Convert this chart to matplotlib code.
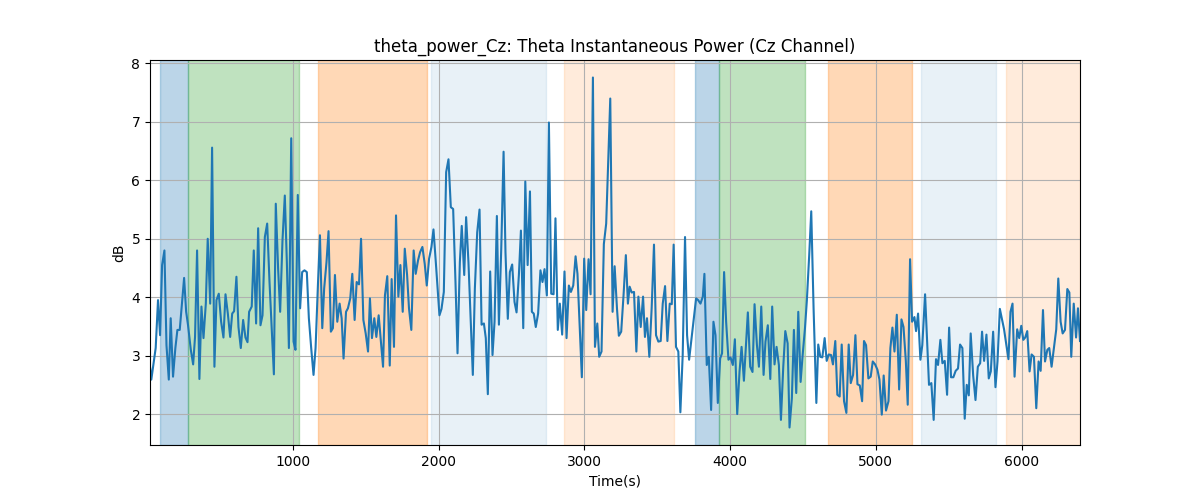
import numpy as np
import matplotlib
matplotlib.use("Agg")
import matplotlib.pyplot as plt

# time (s) and theta power (dB)
time_s = [
    20, 29, 59, 75, 89, 103, 119, 133, 149, 162, 178, 194, 208, 224, 240, 254, 268, 281,
    300, 316, 329, 343, 359, 373, 387, 403, 416, 433, 446, 462, 476, 492, 508, 524, 538,
    554, 570, 584, 597, 613, 627, 643, 659, 675, 689, 700, 718, 732, 748, 762, 778, 792,
    808, 824, 840, 856, 870, 883, 899, 913, 929, 945, 959, 973, 989, 1005, 1018, 1034,
    1050, 1064, 1080, 1096, 1110, 1126, 1142, 1156, 1172, 1186, 1202, 1215, 1231, 1245,
    1261, 1275, 1289, 1305, 1321, 1335, 1348, 1365, 1378, 1394, 1408, 1424, 1438, 1454,
    1468, 1484, 1500, 1516, 1529, 1543, 1559, 1573, 1589, 1603, 1619, 1632, 1648, 1665,
    1678, 1694, 1708, 1724, 1738, 1754, 1768, 1784, 1797, 1813, 1829, 1843, 1859, 1873,
    1889, 1905, 1919, 1935, 1951, 1965, 1981, 2006, 2020, 2036, 2052, 2068, 2084, 2100,
    2116, 2130, 2146, 2159, 2176, 2189, 2205, 2219, 2235, 2249, 2265, 2281, 2295, 2311,
    2324, 2338, 2354, 2370, 2384, 2400, 2414, 2430, 2446, 2459, 2475, 2489, 2505, 2521,
    2535, 2551, 2565, 2581, 2595, 2611, 2627, 2640, 2653, 2667, 2683, 2699, 2713, 2727,
    2743, 2757, 2773, 2789, 2802, 2818, 2832, 2848, 2864, 2878, 2894, 2908, 2924, 2940,
    2953, 2970, 2983, 2999, 3013, 3029, 3043, 3059, 3073, 3089, 3102, 3118, 3134, 3150,
    3178, 3194, 3208, 3224, 3237, 3253, 3269, 3285, 3299, 3311, 3325, 3341, 3357, 3371,
    3387, 3403, 3416, 3430, 3446, 3462, 3478, 3492, 3508, 3524, 3538, 3554, 3570, 3586,
    3600, 3613, 3629, 3645, 3659, 3675, 3691, 3705, 3719, 3735, 3751, 3767, 3781, 3797,
    3813, 3824, 3840, 3854, 3870, 3886, 3900, 3916, 3932, 3945, 3959, 3973, 3989, 4003,
    4019, 4033, 4049, 4065, 4079, 4095, 4108, 4122, 4138, 4154, 4168, 4184, 4198, 4214,
    4230, 4243, 4259, 4276, 4289, 4305, 4319, 4335, 4349, 4365, 4379, 4395, 4408, 4424,
    4438, 4454, 4468, 4484, 4498, 4514, 4527, 4543, 4557, 4573, 4592, 4605, 4619, 4633,
    4649, 4663, 4677, 4693, 4706, 4722, 4736, 4752, 4766, 4782, 4798, 4814, 4828, 4844,
    4860, 4874, 4890, 4906, 4919, 4933, 4949, 4965, 4979, 4995, 5011, 5025, 5041, 5054,
    5070, 5087, 5100, 5114, 5128, 5144, 5160, 5176, 5190, 5206, 5219, 5235, 5249, 5265,
    5276, 5290, 5306, 5319, 5338, 5352, 5365, 5381, 5397, 5413, 5427, 5443, 5457, 5473,
    5489, 5503, 5516, 5532, 5548, 5564, 5578, 5594, 5610, 5624, 5638, 5651, 5668, 5684,
    5700, 5716, 5729, 5743, 5759, 5775, 5789, 5805, 5821, 5835, 5851, 5864, 5880, 5894,
    5910, 5924, 5938, 5952, 5970, 5984, 5998, 6012, 6025, 6039, 6055, 6069, 6085, 6101,
    6117, 6131, 6147, 6161, 6177, 6190, 6206, 6222, 6238, 6252, 6268, 6282, 6298, 6314,
    6328, 6341, 6358, 6374, 6387, 6401,
]

power_db = [
    2.81, 2.59, 3.13, 3.95, 3.35, 4.55, 4.80, 3.18, 2.59, 3.64, 2.64, 3.13, 3.44, 3.44, 3.92, 4.33, 3.75, 3.52,
    3.10, 2.85, 3.32, 4.80, 2.60, 3.84, 3.30, 3.89, 5.00, 3.89, 6.56, 2.81, 3.95, 4.06, 3.58, 3.31, 4.05,
    3.72, 3.32, 3.72, 3.76, 4.35, 3.49, 3.13, 3.61, 3.31, 3.23, 3.75, 3.84, 4.80, 3.55, 5.18, 3.52, 3.69,
    5.03, 5.26, 4.26, 3.41, 2.68, 5.60, 4.49, 3.75, 4.97, 5.74, 4.60, 3.13, 6.72, 3.24, 3.10, 5.75,
    3.81, 4.43, 4.46, 4.43, 3.64, 3.13, 2.67, 3.13, 4.20, 5.06, 3.47, 4.15, 4.60, 5.13,
    3.41, 3.47, 4.38, 3.58, 3.89, 3.64, 2.95, 3.75, 3.81, 3.98, 4.40, 3.61, 4.26, 4.22,
    5.00, 3.61, 3.38, 3.07, 3.98, 3.30, 3.64, 3.32, 3.69, 3.27, 2.81, 4.03, 4.36, 2.83,
    4.31, 3.15, 5.40, 4.01, 4.55, 3.75, 4.83, 4.38, 3.81, 3.44, 4.80, 4.40, 4.63, 4.77,
    4.86, 4.57, 4.20, 4.66, 4.86, 5.16, 4.60, 3.69, 3.80, 4.09, 6.14, 6.36, 5.54, 5.51,
    4.26, 3.04, 4.60, 5.22, 4.38, 5.37, 4.60, 3.69, 2.67, 4.15, 5.11, 5.50, 3.53, 3.55,
    3.30, 2.34, 4.44, 3.01, 3.58, 5.39, 3.53, 4.83, 6.49, 4.77, 3.63, 4.43, 4.56, 3.92,
    3.74, 4.38, 5.14, 3.47, 5.98, 4.55, 5.81, 3.75, 3.72, 3.49, 3.72, 4.46, 4.26, 4.48,
    4.03, 6.99, 4.06, 4.05, 5.35, 3.44, 3.89, 3.36, 4.44, 3.30, 4.20, 4.09, 4.20, 4.70,
    4.40, 3.41, 2.63, 4.66, 3.78, 4.65, 4.05, 7.76, 3.15, 3.55, 2.98, 3.07, 4.91, 5.26,
    7.40, 3.75, 4.53, 3.81, 3.34, 3.41, 4.03, 4.72, 3.89, 4.18, 4.08, 4.09, 3.07, 4.01,
    3.49, 4.01, 3.32, 3.64, 2.98, 3.81, 4.90, 3.35, 3.24, 3.25, 3.89, 4.19, 3.25, 3.89,
    3.88, 4.90, 3.15, 3.07, 2.03, 3.01, 5.03, 3.35, 2.93, 3.28, 3.64, 3.98, 3.95, 3.89,
    4.01, 4.40, 2.84, 2.98, 2.07, 3.58, 3.35, 2.19, 2.95, 3.04, 4.43, 3.58, 2.93, 2.97,
    2.84, 3.28, 2.00, 2.73, 3.15, 2.57, 3.13, 3.74, 2.81, 2.72, 3.88, 3.19, 2.81, 3.84,
    2.67, 3.24, 3.52, 2.60, 3.84, 2.85, 3.15, 2.84, 1.90, 2.81, 3.42, 3.21, 1.77, 2.27,
    3.44, 2.36, 3.75, 2.55, 3.01, 3.47, 3.95, 4.72, 5.47, 3.81, 2.19, 3.19, 2.98, 2.97,
    3.30, 2.91, 3.02, 3.01, 2.85, 3.25, 2.33, 2.30, 3.19, 2.22, 2.02, 3.19, 2.53, 2.67,
    3.35, 2.51, 2.49, 2.22, 3.25, 3.18, 2.61, 2.64, 2.90, 2.85, 2.76, 2.59, 1.99, 2.66,
    2.06, 2.22, 3.13, 3.48, 3.07, 3.70, 2.42, 3.62, 3.49, 2.91, 2.16, 4.65, 3.58, 3.66,
    3.42, 3.72, 2.93, 3.18, 4.05, 3.24, 2.50, 2.53, 1.90, 2.94, 2.84, 3.27, 2.87, 2.91,
    2.33, 3.48, 2.63, 2.63, 2.74, 2.78, 3.19, 3.13, 1.92, 2.50, 2.32, 3.38, 2.66, 2.24,
    2.81, 2.87, 3.41, 2.91, 3.36, 2.61, 2.73, 3.41, 2.46, 2.90, 3.80, 3.64, 3.45, 3.21,
    2.94, 3.75, 3.89, 2.64, 3.45, 3.30, 3.51, 3.27, 3.31, 3.42, 2.73, 3.02, 2.98, 2.10,
    2.90, 2.74, 3.78, 2.90, 3.10, 3.13, 2.81, 3.13, 3.45, 4.32, 3.58, 3.38, 3.44, 4.14,
    4.08, 2.98, 3.89, 3.31, 3.81, 3.25,
]

# shaded stages: (start, end, colour, alpha)
stage_start = [90, 281, 1170, 1946, 2860, 3762, 3925, 4674, 5313, 5890]
stage_end = [281, 1041, 1921, 2734, 3616, 3925, 4513, 5249, 5828, 6401]
stage_color = ["C0", "C2", "C1", "C0", "C1", "C0", "C2", "C1", "C0", "C1"]
stage_alpha = [0.3, 0.3, 0.3, 0.1, 0.15, 0.3, 0.3, 0.3, 0.1, 0.15]

fig, ax = plt.subplots(figsize=(12, 5), dpi=100)

for s, e, c, a in zip(stage_start, stage_end, stage_color, stage_alpha):
    ax.axvspan(s, e, color=c, alpha=a)

ax.plot(time_s, power_db, color="C0", linewidth=1.5)

ax.set_xlim(min(time_s), max(time_s))
ax.set_title("theta_power_Cz: Theta Instantaneous Power (Cz Channel)")
ax.set_xlabel("Time(s)")
ax.set_ylabel("dB")
ax.grid(True)

plt.savefig("out.png")
